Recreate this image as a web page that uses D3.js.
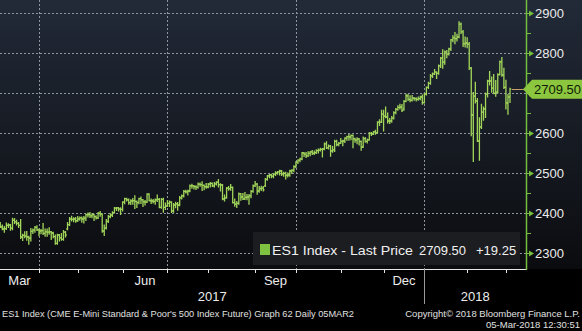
<!DOCTYPE html>
<html>
<head>
<meta charset="utf-8">
<script src="https://cdn.jsdelivr.net/npm/d3@7"></script>
<style>
  html, body { margin: 0; padding: 0; background: #000; }
  svg { display: block; font-family: "Liberation Sans", Arial, sans-serif; }
</style>
</head>
<body>
<svg id="chart" width="582" height="331"></svg>
<script>
// ES1 Index (CME E-Mini S&P 500 front future), daily bars, 1-Mar-2017 .. 5-Mar-2018
const firstDay = "2017-03-01";
const lastDay = "2018-03-05";
const holidays = ["2017-04-14", "2017-05-29", "2017-07-04", "2017-09-04", "2017-11-23",
                  "2017-12-25", "2018-01-01", "2018-01-15", "2018-02-19"];

const open = [
  2364,2392,2378,2380,2372,2365,2360,2361,2369,2370,2362,2382,2378,2374,2369,2340,2344,2342,2340,2337,2354,2357,2364,
  2358,2355,2356,2349,2353,2352,2353,2350,2341,2324,2345,2338,2334,2352,2360,2371,2385,2384,2385,
  2381,2385,2388,2385,2387,2396,2396,2393,2396,2391,2388,2399,2397,2355,2362,2379,2391,2395,2401,2412,2413,2410,
  2409,2427,2436,2433,2426,2430,2431,2429,2426,2436,2433,2428,2427,2447,2431,2430,2429,2433,2434,2414,2434,2414,
  2418,2424,2427,2405,2420,2423,2420,2438,2443,2454,2453,2455,2468,2468,2466,2464,2472,2471,2469,2466,
  2465,2472,2474,2468,2473,2477,2471,2470,2435,2438,2462,2461,2464,2426,2422,2424,2448,2440,2435,2439,2440,2443,2454,
  2468,2472,2455,2461,2462,2468,2484,2493,2495,2492,2497,2500,2503,2505,2498,2499,2494,2495,2505,2507,
  2516,2527,2532,2535,2550,2547,2543,2549,2553,2549,2551,2556,2557,2559,2560,2573,2563,2567,2555,2558,2579,2571,
  2574,2579,2580,2587,2591,2590,2594,2585,2582,2585,2579,2565,2586,2579,2583,2599,2597,2603,2601,2627,2627,
  2647,2642,2640,2630,2630,2637,2651,2659,2664,2665,2660,2679,2693,2684,2682,2687,2686,2684,2686,2690,
  2676,2697,2714,2724,2743,2748,2752,2749,2768,2787,2777,2803,2797,2810,2833,2838,2836,2840,2872,2853,2823,
  2825,2822,2762,2645,2692,2680,2580,2615,2652,2660,2697,2730,2730,2712,2699,2702,2746,2778,2745,
  2714,2675,2690
];
const high = [
  2399,2394,2384,2381,2376,2370,2366,2375,2373,2371,2387,2386,2382,2376,2384,2347,2353,2354,2342,2361,2360,2366,2368,
  2360,2359,2374,2360,2360,2363,2354,2352,2345,2347,2346,2349,2356,2354,2376,2389,2392,2388,2389,
  2391,2390,2390,2391,2397,2400,2401,2398,2397,2393,2401,2404,2398,2370,2384,2394,2398,2403,2414,2414,2414,2413,
  2428,2437,2437,2435,2433,2436,2443,2430,2437,2440,2434,2431,2448,2448,2435,2434,2435,2445,2436,2436,2437,2425,
  2431,2430,2428,2424,2427,2426,2441,2445,2456,2457,2457,2470,2472,2469,2468,2475,2475,2478,2470,2474,
  2474,2476,2475,2476,2478,2484,2473,2471,2445,2464,2466,2471,2465,2435,2429,2450,2449,2449,2451,2446,2446,2456,2470,
  2479,2474,2466,2467,2466,2486,2494,2496,2497,2498,2503,2504,2507,2506,2502,2502,2500,2507,2508,2518,
  2528,2533,2537,2551,2551,2551,2553,2554,2556,2555,2558,2560,2562,2561,2575,2578,2570,2569,2566,2582,2582,2576,
  2586,2582,2588,2592,2596,2595,2595,2587,2588,2586,2580,2590,2589,2585,2601,2601,2604,2607,2628,2633,2657,
  2657,2665,2650,2636,2641,2653,2661,2668,2672,2671,2681,2697,2696,2693,2694,2689,2688,2690,2692,2695,
  2699,2715,2727,2746,2750,2759,2753,2770,2789,2808,2805,2806,2812,2834,2843,2851,2847,2878,2875,2856,2840,
  2838,2826,2764,2701,2727,2686,2638,2672,2665,2700,2732,2754,2740,2746,2731,2748,2780,2789,2762,
  2732,2696,2712
];
const low = [
  2362,2377,2372,2366,2364,2358,2352,2359,2364,2357,2358,2374,2370,2364,2336,2331,2338,2332,2322,2330,2349,2352,2356,
  2343,2348,2346,2342,2342,2347,2334,2338,2322,2322,2330,2332,2332,2340,2358,2369,2380,2378,2377,
  2379,2382,2377,2375,2381,2390,2389,2388,2381,2385,2386,2392,2352,2344,2360,2376,2388,2391,2400,2406,2405,2396,
  2405,2423,2430,2422,2421,2422,2411,2414,2423,2424,2416,2420,2426,2430,2424,2425,2422,2429,2413,2412,2402,2409,
  2416,2416,2401,2402,2413,2407,2418,2435,2440,2450,2445,2453,2462,2460,2459,2462,2467,2456,2458,2462,
  2463,2465,2466,2465,2470,2465,2455,2433,2430,2437,2457,2457,2425,2417,2414,2422,2432,2434,2434,2433,2422,2438,2452,
  2466,2447,2452,2456,2455,2466,2482,2488,2488,2488,2494,2497,2495,2494,2492,2485,2490,2492,2499,2503,
  2513,2524,2528,2533,2541,2539,2541,2543,2546,2546,2549,2550,2555,2540,2558,2561,2560,2542,2552,2554,2568,2568,
  2574,2568,2576,2582,2582,2583,2563,2577,2573,2570,2557,2564,2577,2575,2582,2594,2596,2597,2600,2619,2626,
  2605,2638,2625,2624,2627,2635,2648,2657,2660,2654,2657,2678,2681,2678,2680,2682,2680,2682,2683,2672,
  2675,2695,2711,2722,2739,2746,2736,2747,2764,2762,2772,2788,2795,2806,2828,2823,2830,2838,2849,2816,2815,
  2813,2759,2593,2529,2675,2579,2532,2611,2632,2639,2690,2720,2702,2698,2692,2700,2745,2742,2711,
  2660,2647,2676
];
const close = [
  2392,2378,2380,2372,2365,2360,2361,2369,2370,2362,2382,2378,2374,2369,2340,2344,2342,2340,2337,2354,2357,2364,2358,
  2355,2356,2349,2353,2352,2353,2350,2341,2324,2345,2338,2334,2352,2345,2371,2385,2384,2385,2381,
  2385,2388,2385,2387,2396,2396,2393,2396,2391,2388,2399,2397,2355,2362,2379,2391,2395,2401,2412,2413,2410,2409,
  2427,2436,2433,2426,2430,2431,2429,2426,2436,2433,2428,2427,2447,2431,2430,2429,2433,2434,2414,2434,2414,2418,
  2424,2427,2405,2420,2423,2420,2438,2443,2454,2453,2455,2468,2468,2466,2464,2472,2471,2469,2466,2465,
  2472,2474,2468,2473,2477,2471,2470,2435,2438,2462,2461,2464,2426,2422,2424,2448,2440,2435,2439,2440,2443,2454,2468,
  2472,2455,2461,2462,2458,2484,2493,2495,2492,2497,2500,2503,2505,2498,2499,2494,2495,2505,2507,2516,
  2527,2532,2535,2550,2547,2543,2549,2553,2549,2551,2556,2557,2559,2560,2573,2563,2567,2555,2558,2579,2571,2574,
  2579,2580,2587,2591,2590,2594,2585,2582,2585,2579,2565,2586,2579,2583,2599,2597,2603,2601,2627,2627,2647,
  2642,2640,2630,2630,2637,2651,2659,2664,2665,2656,2679,2693,2684,2682,2687,2686,2684,2686,2690,2676,
  2697,2714,2724,2743,2748,2752,2749,2768,2787,2777,2803,2797,2810,2833,2838,2836,2840,2872,2853,2823,2825,
  2822,2762,2645,2692,2680,2580,2615,2652,2660,2697,2730,2730,2712,2699,2702,2746,2778,2745,2714,
  2675,2690.25,2709.5
];

const yTicks = [2300, 2400, 2500, 2600, 2700, 2800, 2900];
const yMinorTicks = [2350, 2450, 2550, 2650, 2750, 2850];
const labelledMonths = ["Mar", "Jun", "Sep", "Dec"];
const gridMonths = [0, 3, 6, 9];            // quarter starts get a dashed grid line
const tickerName = "ES1 Index";
const fieldName = "Last Price";
const footerLeft = "ES1 Index (CME E-Mini Standard & Poor's 500 Index Future) Graph 62  Daily 05MAR2";
const footerRight1 = "Copyright\u00A9 2018 Bloomberg Finance L.P.";
const footerRight2 = "05-Mar-2018 12:30:51";

// ---- trading calendar ----
const fmt = d3.utcFormat("%Y-%m-%d");
const parse = d3.utcParse("%Y-%m-%d");
const days = d3.utcDays(parse(firstDay), d3.utcDay.offset(parse(lastDay), 1))
  .filter(d => d.getUTCDay() % 6 !== 0 && !holidays.includes(fmt(d)));
const n = days.length;

// ---- layout ----
const W = 582, H = 331;
const plotRight = 526, plotBottom = 269;
const x = d3.scaleLinear().domain([0, n - 1]).range([-7.9, 510]);
const y = d3.scaleLinear().domain([2300, 2900]).range([253, 13]);

const svg = d3.select("#chart");
const defs = svg.append("defs");
const grad = defs.append("linearGradient").attr("id", "bg").attr("x1", 0).attr("y1", 0).attr("x2", 0).attr("y2", 1);
grad.append("stop").attr("offset", "0%").attr("stop-color", "#222a38");
grad.append("stop").attr("offset", "100%").attr("stop-color", "#0b0c0f");
defs.append("clipPath").attr("id", "plotClip")
  .append("rect").attr("x", 0).attr("y", 0).attr("width", plotRight).attr("height", plotBottom);

svg.append("rect").attr("width", W).attr("height", H).attr("fill", "#000");
svg.append("rect").attr("width", W).attr("height", plotBottom).attr("fill", "url(#bg)");

// month starts
const monthStarts = [];
days.forEach((d, i) => {
  if (i === 0 || d.getUTCMonth() !== days[i - 1].getUTCMonth()) monthStarts.push(i);
});

// ---- grid ----
const grid = svg.append("g").attr("stroke", "#8f959e").attr("stroke-dasharray", "2,2")
  .attr("stroke-width", 1).attr("shape-rendering", "crispEdges");
grid.selectAll("line.h").data(yTicks).join("line").attr("class", "h")
  .attr("x1", 0).attr("x2", plotRight)
  .attr("y1", d => Math.round(y(d)) + 0.5).attr("y2", d => Math.round(y(d)) + 0.5);
grid.selectAll("line.v")
  .data(monthStarts.filter(i => i > 0 && gridMonths.includes(days[i].getUTCMonth())))
  .join("line").attr("class", "v")
  .attr("x1", i => Math.round(x(i)) + 0.5).attr("x2", i => Math.round(x(i)) + 0.5)
  .attr("y1", 0).attr("y2", plotBottom);

// ---- OHLC bars ----
const bars = svg.append("g").attr("clip-path", "url(#plotClip)")
  .attr("stroke", "#a2d65a").attr("stroke-width", 1.3).attr("fill", "none");
bars.selectAll("path").data(d3.range(n)).join("path")
  .attr("d", i => {
    const xc = x(i);
    const yh = y(high[i]), yl = y(low[i]);
    const yo = y(open[i]), yc = y(close[i]);
    return `M${xc},${yh - 0.5}V${yl + 0.5}M${xc - 1.3},${yo}H${xc}M${xc},${yc}H${xc + 1.3}`;
  });

// last price line
const last = close[n - 1], prev = close[n - 2];
const yLast = y(last);
svg.append("line")
  .attr("x1", Math.round(x(n - 1)) + 2).attr("x2", plotRight)
  .attr("y1", Math.round(yLast) + 0.5).attr("y2", Math.round(yLast) + 0.5)
  .attr("stroke", "#c9a06a").attr("stroke-width", 1).attr("shape-rendering", "crispEdges");

// ---- x axis ----
const xAxisG = svg.append("g").attr("shape-rendering", "crispEdges");
xAxisG.append("line").attr("x1", 0).attr("x2", plotRight).attr("y1", plotBottom + 0.5).attr("y2", plotBottom + 0.5)
  .attr("stroke", "#e6e6e6");
xAxisG.selectAll("line.mt").data(monthStarts.filter(i => i > 0)).join("line").attr("class", "mt")
  .attr("x1", i => Math.round(x(i)) + 0.5).attr("x2", i => Math.round(x(i)) + 0.5)
  .attr("y1", plotBottom).attr("y2", plotBottom + 4).attr("stroke", "#e6e6e6");

// quarter month labels, centred on the visible part of the month (skip stubs too narrow to hold one)
const monthFmt = d3.utcFormat("%b");
monthStarts.forEach((s, k) => {
  const name = monthFmt(days[s]);
  if (!labelledMonths.includes(name)) return;
  const e = k + 1 < monthStarts.length ? monthStarts[k + 1] : n;
  const x0 = Math.max(0, x(s)), x1 = Math.min(plotRight, x(e));
  if (x1 - x0 < 20) return;
  svg.append("text").attr("x", (x0 + x1) / 2).attr("y", 280).attr("dy", "0.36em")
    .attr("text-anchor", "middle").attr("fill", "#ececec").attr("font-size", 13).text(name);
});

// years
const janIdx = days.findIndex(d => d.getUTCFullYear() === 2018);
const yearSpans = [
  { label: "2017", x0: 0, x1: x(janIdx) },
  { label: "2018", x0: x(janIdx), x1: plotRight }
];
svg.selectAll("text.year").data(yearSpans).join("text").attr("class", "year")
  .attr("x", d => (d.x0 + d.x1) / 2).attr("y", 296).attr("dy", "0.36em")
  .attr("text-anchor", "middle").attr("fill", "#ececec").attr("font-size", 13).text(d => d.label);
svg.append("line").attr("x1", Math.round(x(janIdx)) + 0.5).attr("x2", Math.round(x(janIdx)) + 0.5)
  .attr("y1", plotBottom).attr("y2", 304).attr("stroke", "#9a9a9a").attr("shape-rendering", "crispEdges");

// ---- y axis ----
const green = "#74bd3f";
svg.append("line").attr("x1", plotRight + 0.5).attr("x2", plotRight + 0.5).attr("y1", 0).attr("y2", plotBottom + 1)
  .attr("stroke", green).attr("stroke-width", 1.5);
svg.selectAll("line.minor").data(yMinorTicks).join("line").attr("class", "minor")
  .attr("x1", plotRight).attr("x2", plotRight + 5)
  .attr("y1", d => Math.round(y(d)) + 0.5).attr("y2", d => Math.round(y(d)) + 0.5)
  .attr("stroke", green).attr("shape-rendering", "crispEdges");
svg.selectAll("path.major").data(yTicks).join("path").attr("class", "major")
  .attr("d", d => {
    const yy = Math.round(y(d)) + 0.5;
    return `M${plotRight},${yy - 0.6}H${plotRight + 3}V${yy - 3}L${plotRight + 8},${yy}L${plotRight + 3},${yy + 3}V${yy + 0.6}H${plotRight}Z`;
  })
  .attr("fill", green);
// tick labels hidden behind the last-price tag are left out
const tagH = 19;
svg.selectAll("text.ytick").data(yTicks.filter(d => Math.abs(y(d) - yLast) > tagH / 2 + 4))
  .join("text").attr("class", "ytick")
  .attr("x", 535).attr("y", d => y(d)).attr("dy", "0.36em")
  .attr("fill", "#ececec").attr("font-size", 13).text(d => d);

// last price tag
svg.append("path")
  .attr("d", `M${plotRight - 3},${yLast}L${plotRight + 6},${yLast - tagH / 2}H${W}V${yLast + tagH / 2}H${plotRight + 6}Z`)
  .attr("fill", "#8cc63f");
svg.append("text").attr("x", 534).attr("y", yLast).attr("dy", "0.36em")
  .attr("fill", "#0d1a05").attr("font-size", 13).text(last.toFixed(2));

// ---- legend ----
const lg = svg.append("g");
lg.append("rect").attr("x", 253).attr("y", 232).attr("width", 267).attr("height", 33).attr("fill", "#1c1d20");
lg.append("rect").attr("x", 260).attr("y", 244).attr("width", 10).attr("height", 11).attr("fill", "#7fc242");
const change = last - prev;
lg.append("text").attr("x", 272).attr("y", 250).attr("dy", "0.36em").attr("fill", "#f0f0f0").attr("font-size", 13.5)
  .attr("textLength", 141).attr("lengthAdjust", "spacingAndGlyphs")
  .text(`${tickerName} - ${fieldName}`);
lg.append("text").attr("x", 419).attr("y", 250).attr("dy", "0.36em").attr("fill", "#f0f0f0").attr("font-size", 13)
  .text(last.toFixed(2));
lg.append("text").attr("x", 476).attr("y", 250).attr("dy", "0.36em").attr("fill", "#f0f0f0").attr("font-size", 13)
  .text((change >= 0 ? "+" : "") + change.toFixed(2));

// ---- footer ----
svg.append("text").attr("x", 2).attr("y", 317).attr("fill", "#e0e0e0").attr("font-size", 9.5)
  .attr("textLength", 352).attr("lengthAdjust", "spacingAndGlyphs").text(footerLeft);
svg.append("text").attr("x", 580).attr("y", 317).attr("text-anchor", "end").attr("fill", "#e0e0e0").attr("font-size", 9.5)
  .text(footerRight1);
svg.append("text").attr("x", 580).attr("y", 328).attr("text-anchor", "end").attr("fill", "#e0e0e0").attr("font-size", 9.5)
  .text(footerRight2);
</script>
</body>
</html>
